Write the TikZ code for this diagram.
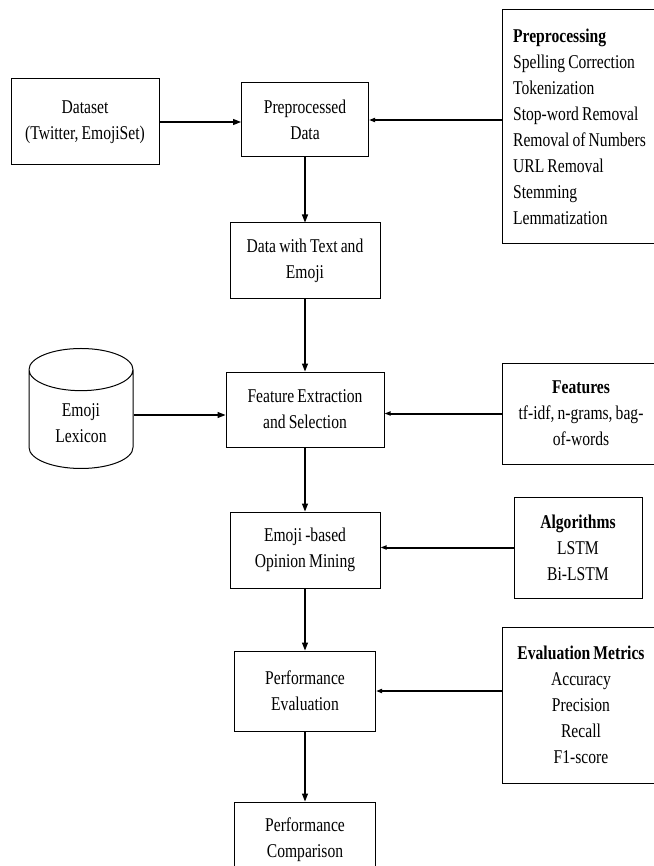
\documentclass[tikz,border=0pt]{standalone}
\usepackage{fontspec}
\setmainfont[FakeStretch=0.8,WordSpace=0.8]{Liberation Serif}
\usetikzlibrary{arrows.meta,shapes.geometric}

\tikzset{
stepBox/.style={draw,line width=1pt,align=center,inner sep=2pt},
listBox/.style={draw,line width=1pt,align=left,inner xsep=10pt},
infoBox/.style={draw,line width=1pt,align=center,inner sep=2pt},
store/.style={cylinder,shape border rotate=90,draw,line width=1pt,aspect=0.73,align=center},
flow/.style={line width=1.2pt,-{Triangle[length=8pt,width=6pt]}},
feed/.style={line width=2pt,-{Triangle[length=6pt,width=4pt]}}
}

\begin{document}
\begin{tikzpicture}[x=1pt,y=-1pt,font=\fontsize{19.5}{26}\selectfont]
    \useasboundingbox (0,0) rectangle (653,866);

    % main steps
    \node[stepBox,minimum width=148,minimum height=86] (dataset) at (85,122) {Dataset\\(Twitter, EmojiSet)};
    \node[stepBox,minimum width=127,minimum height=74] (prep) at (305,120) {Preprocessed\\Data};
    \node[stepBox,minimum width=150,minimum height=75] (datatext) at (305,260.5) {Data with Text and\\Emoji};
    \node[stepBox,minimum width=158,minimum height=75] (feature) at (305,409.5) {Feature Extraction\\and Selection};
    \node[stepBox,minimum width=150,minimum height=76] (opinion) at (305,550) {Emoji -based\\Opinion Mining};
    \node[stepBox,minimum width=141,minimum height=80] (pereval) at (305,691) {Performance\\Evaluation};
    \node[stepBox,minimum width=141,minimum height=75] (percomp) at (305,839.5) {Performance\\Comparison};

    % lexicon
    \node[store,minimum width=104,minimum height=120] (lexicon) at (81,423) {Emoji\\Lexicon};

    % side lists
    \node[listBox,minimum width=154,minimum height=234,anchor=north west] (preproc) at (502,9)
        {\textbf{Preprocessing}\\Spelling Correction\\Tokenization\\Stop-word Removal\\Removal of Numbers\\URL Removal\\Stemming\\Lemmatization};
    \node[infoBox,minimum width=158,minimum height=101] (features) at (581,413.5)
        {\textbf{Features}\\tf-idf, n-grams, bag-\\of-words};
    \node[infoBox,minimum width=128,minimum height=101] (algos) at (578,547.5)
        {\textbf{Algorithms}\\LSTM\\Bi-LSTM};
    \node[infoBox,minimum width=158,minimum height=156] (metrics) at (581,705)
        {\textbf{Evaluation Metrics}\\Accuracy\\Precision\\Recall\\F1-score};

    % connectors
    \draw[flow] (dataset.east) -- (dataset.east -| prep.west);
    \draw[feed] (preproc.west |- prep.east) -- (prep.east);
    \draw[flow] (prep) -- (datatext);
    \draw[flow] (datatext) -- (feature);
    \draw[flow] ([yshift=8pt]lexicon.east) -- ([yshift=8pt]lexicon.east -| feature.west);
    \draw[feed] (features.west) -- (features.west -| feature.east);
    \draw[flow] (feature) -- (opinion);
    \draw[feed] (algos.west) -- (algos.west -| opinion.east);
    \draw[flow] (opinion) -- (pereval);
    \draw[feed] (metrics.west |- pereval.east) -- (pereval.east);
    \draw[flow] (pereval) -- (percomp);
\end{tikzpicture}
\end{document}
